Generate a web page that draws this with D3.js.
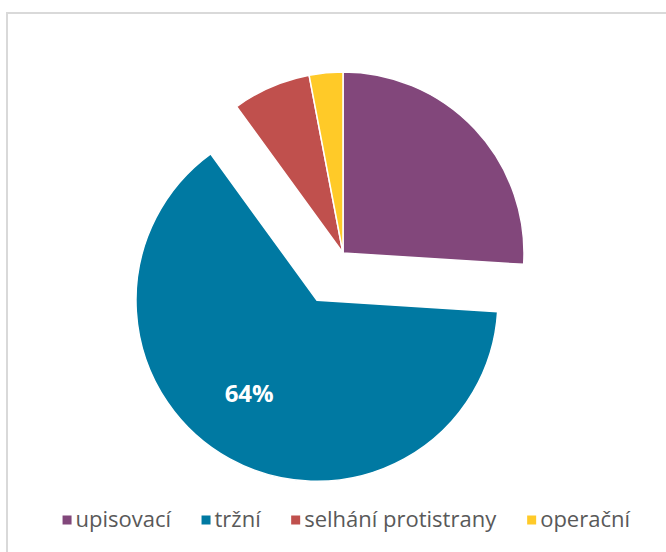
<!DOCTYPE html>
<html>
<head>
<meta charset="utf-8">
<script src="https://cdn.jsdelivr.net/npm/d3@7"></script>
<style>
  body { margin: 0; background: #fff; }
  svg { display: block; font-family: "Open Sans", "Liberation Sans", sans-serif; }
</style>
</head>
<body>
<div id="chart"></div>
<script>
// chart data
const categories = ["upisovací", "tržní", "selhání protistrany", "operační"];
const values = [26, 64, 7, 3];
const colors = ["#82477b", "#0079a2", "#c0504d", "#ffca28"];
const exploded = ["tržní"];
const shownLabels = ["tržní"];

const width = 666, height = 552;
const cx = 343, cy = 253, radius = 181, explodeBy = 54;

const svg = d3.select("#chart").append("svg")
    .attr("width", width)
    .attr("height", height);

// chart area frame (only left/top visible in the crop)
svg.append("rect")
    .attr("x", 7).attr("y", 13)
    .attr("width", 700).attr("height", 600)
    .attr("fill", "#fff")
    .attr("stroke", "#d9d9d9")
    .attr("stroke-width", 2);

const data = categories.map((c, i) => ({name: c, value: values[i], color: colors[i]}));

const pie = d3.pie().sort(null).value(d => d.value);
const arc = d3.arc().innerRadius(0).outerRadius(radius);
const labelArc = d3.arc().innerRadius(radius * 0.64).outerRadius(radius * 0.64);

const arcs = pie(data);

function offset(d) {
    if (!exploded.includes(d.data.name)) return [0, 0];
    const mid = (d.startAngle + d.endAngle) / 2;
    return [Math.sin(mid) * explodeBy, -Math.cos(mid) * explodeBy];
}

const g = svg.append("g").attr("transform", `translate(${cx},${cy})`);

const slice = g.selectAll(".slice")
    .data(arcs)
    .enter().append("g")
    .attr("class", "slice")
    .attr("transform", d => `translate(${offset(d)})`);

slice.append("path")
    .attr("d", arc)
    .attr("fill", d => d.data.color)
    .attr("stroke", "#fff")
    .attr("stroke-width", 1.5)
    .attr("stroke-linejoin", "round");

slice.filter(d => shownLabels.includes(d.data.name))
    .append("text")
    .attr("transform", d => {
        const p = labelArc.centroid(d);
        return `translate(${p[0] - 12},${p[1] - 8})`;
    })
    .attr("text-anchor", "middle")
    .attr("dy", "0.35em")
    .attr("fill", "#fff")
    .attr("font-weight", "bold")
    .attr("font-size", 24)
    .text(d => d.data.value + "%");

// legend
const legend = svg.append("g").attr("font-size", 22).attr("fill", "#595959");
const markerSize = 9, textGap = 4, itemGap = 30;
const items = legend.selectAll(".item")
    .data(data)
    .enter().append("g")
    .attr("class", "item");

items.append("rect")
    .attr("width", markerSize)
    .attr("height", markerSize)
    .attr("y", -markerSize / 2)
    .attr("fill", d => d.color);

items.append("text")
    .attr("x", markerSize + textGap)
    .attr("dy", "0.33em")
    .text(d => d.name);

let x = 0;
items.each(function() {
    const w = this.getBBox().width;
    d3.select(this).attr("transform", `translate(${x},0)`);
    x += w + itemGap;
});
const total = x - itemGap;
legend.attr("transform", `translate(${(65 + 628) / 2 - total / 2},520)`);
</script>
</body>
</html>
